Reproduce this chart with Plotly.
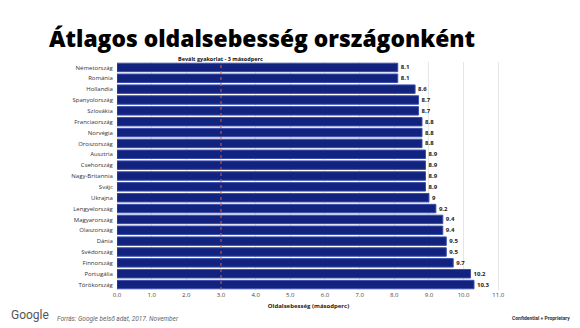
import plotly.graph_objects as go

countries = ["Németország", "Románia", "Hollandia", "Spanyolország", "Szlovákia",
             "Franciaország", "Norvégia", "Oroszország", "Ausztria", "Csehország",
             "Nagy-Britannia", "Svájc", "Ukrajna", "Lengyelország", "Magyarország",
             "Olaszország", "Dánia", "Svédország", "Finnország", "Portugália", "Törökország"]
values = [8.1, 8.1, 8.6, 8.7, 8.7, 8.8, 8.8, 8.8, 8.9, 8.9, 8.9, 8.9, 9, 9.2, 9.4,
          9.4, 9.5, 9.5, 9.7, 10.2, 10.3]
value_labels = ["8.1", "8.1", "8.6", "8.7", "8.7", "8.8", "8.8", "8.8", "8.9", "8.9", "8.9",
                "8.9", "9", "9.2", "9.4", "9.4", "9.5", "9.5", "9.7", "10.2", "10.3"]
tick_vals = list(range(0, 12))
tick_text = [f"{v:.1f}" for v in tick_vals]
best_practice = 3

fig = go.Figure()
fig.add_trace(go.Bar(
    x=values, y=countries, orientation="h",
    marker=dict(color="#12237f", line=dict(color="#3b4fae", width=1)),
    text=["<b>" + t + "</b>" for t in value_labels], textposition="outside", cliponaxis=False,
    textfont=dict(size=6, color="#222", family="Open Sans"),
    hoverinfo="skip",
))

fig.add_shape(type="line", x0=best_practice, x1=best_practice, y0=0, y1=1,
              xref="x", yref="paper", line=dict(color="#e0622a", width=1, dash="dot"),
              layer="above")

fig.update_layout(
    width=580, height=328,
    margin=dict(l=117, r=80, t=62, b=38),
    paper_bgcolor="white", plot_bgcolor="white",
    showlegend=False,
    bargap=0.22,
    font=dict(family="Open Sans", color="#333"),
    xaxis=dict(range=[0, 11.05], tickvals=tick_vals, ticktext=tick_text,
               showgrid=True, gridcolor="#e6e6e6", gridwidth=1, zeroline=False,
               tickfont=dict(size=6, color="#444"), ticks="", showline=False,
               title=dict(text="<b>Oldalsebesség (másodperc)</b>", font=dict(size=6, color="#222"),
                          standoff=5)),
    yaxis=dict(autorange="reversed", tickfont=dict(size=6, color="#333"), ticks="",
               showgrid=False, ticksuffix="  "),
)

fig.add_annotation(text="Átlagos oldalsebesség országonként", xref="paper", yref="paper",
                   x=0, y=1, xanchor="left", yanchor="bottom", showarrow=False,
                   xshift=-70, yshift=6,
                   font=dict(size=22.8, family="Open Sans", color="black", weight=800))
fig.add_annotation(text="<b>Bevált gyakorlat - 3 másodperc</b>", x=best_practice, y=1,
                   xref="x", yref="paper", yanchor="bottom", showarrow=False, yshift=-3,
                   font=dict(size=5.5, color="#111"))
fig.add_annotation(text="Google", xref="paper", yref="paper", x=0, y=0, xshift=-108, yshift=-34,
                   xanchor="left", yanchor="bottom", showarrow=False,
                   font=dict(size=12, family="Roboto", color="#555"))
fig.add_annotation(text="<i>Forrás: Google belső adat, 2017. November</i>", xref="paper", yref="paper",
                   x=0, y=0, xshift=-62, yshift=-35, xanchor="left", yanchor="bottom",
                   showarrow=False, font=dict(size=6.5, family="Roboto", color="#666"))
fig.add_annotation(text="<b>Confidential + Proprietary</b>", xref="paper", yref="paper",
                   x=1, y=0, xshift=72, yshift=-33, xanchor="right", yanchor="bottom",
                   showarrow=False, font=dict(size=5, family="Roboto", color="#333"))

fig.write_html("out.html")
